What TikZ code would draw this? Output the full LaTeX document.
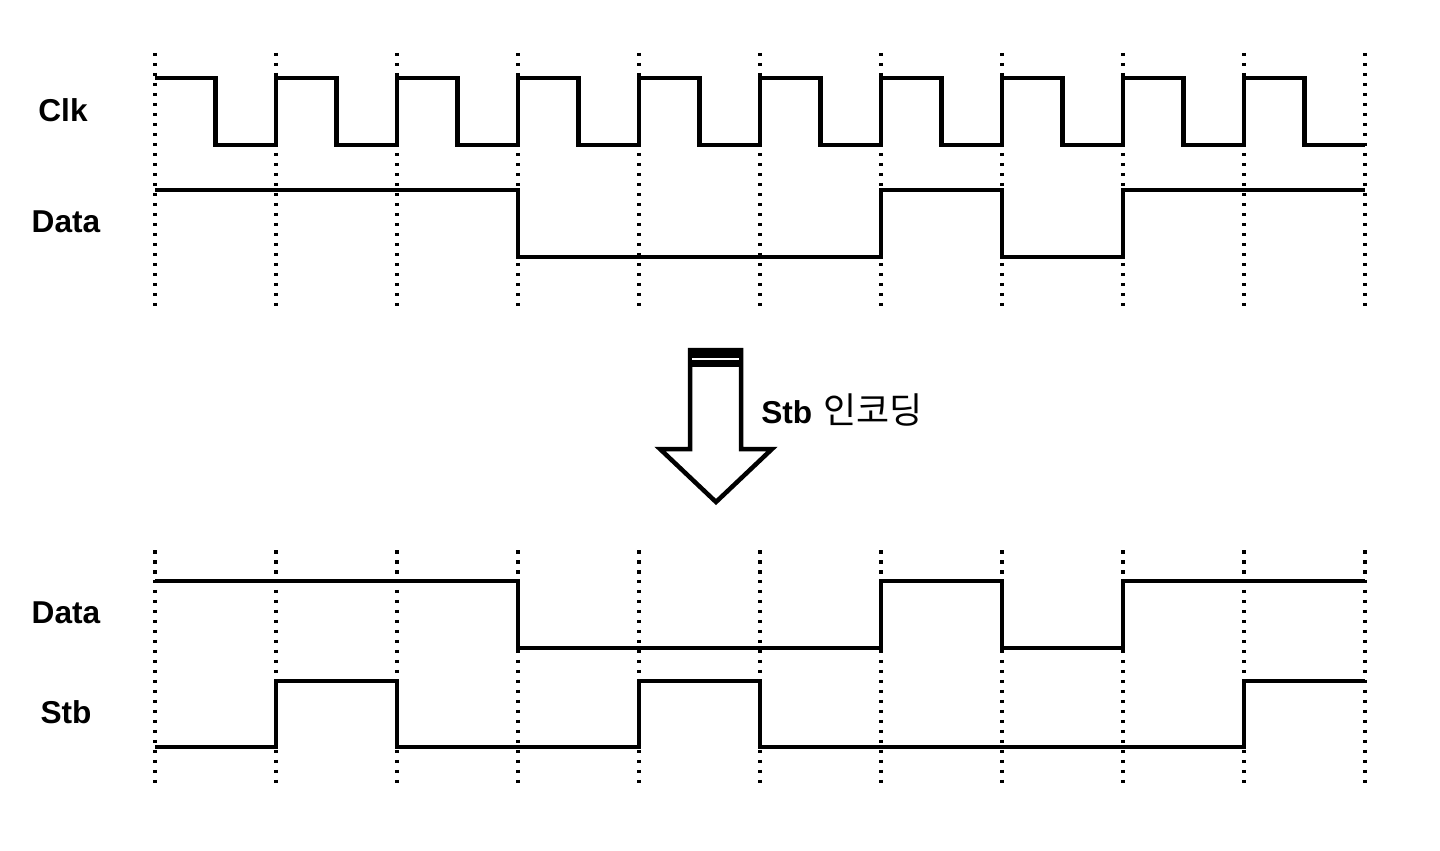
\documentclass[tikz,border=0pt]{standalone}
\usepackage{fontspec}
\setmainfont{Liberation Sans}
\newfontfamily\hangul{Noto Sans CJK KR}
\usepackage{tikz}
\usetikzlibrary{positioning}
\definecolor{ink}{HTML}{000000}

\tikzset{
  signal/.style={draw=ink,line width=0.09cm,line join=miter},
  gridline/.style={draw=ink,line width=0.075cm,dash pattern=on 0.07cm off 0.13cm},
  siglabel/.style={font=\fontsize{18}{21}\selectfont\bfseries,text=ink,inner sep=0pt},
}

\begin{document}
\begin{tikzpicture}[x=0.02cm,y=-0.02cm]
  \useasboundingbox (0,0) rectangle (1440,851);

  % dotted time grid, upper and lower panel
  \foreach \i in {0,...,10} {
    \draw[gridline] ({155+121*\i},53) -- ({155+121*\i},311);
    \draw[gridline] ({155+121*\i},550) -- ({155+121*\i},788);
  }

  % clock
  \draw[signal] (155,78)
    \foreach \i in {0,...,8} { -- ++(60.5,0) -- ++(0,67) -- ++(60.5,0) -- ++(0,-67) }
    -- ++(60.5,0) -- ++(0,67) -- ++(60.5,0);

  % data, same in both panels
  \foreach \y in {190,581}
    \draw[signal] (155,\y) -- (518,\y) -- (518,{\y+67}) -- (881,{\y+67}) -- (881,\y)
      -- (1002,\y) -- (1002,{\y+67}) -- (1123,{\y+67}) -- (1123,\y) -- (1365,\y);

  % strobe
  \draw[signal] (155,747) -- (276,747) -- (276,681) -- (397,681) -- (397,747)
    -- (639,747) -- (639,681) -- (760,681) -- (760,747) -- (1244,747)
    -- (1244,681) -- (1365,681);

  \node[siglabel] (clk)   at (63,110) {Clk};
  \node[siglabel] (data1) at (66,222) {Data};
  \node[siglabel] (data2) at (66,613) {Data};
  \node[siglabel] (stb)   at (66,712) {Stb};

  % encoding arrow
  \draw[signal,fill=white] (690,350) -- (690,449) -- (660,449) -- (716,502)
    -- (772,449) -- (741,449) -- (741,350) -- cycle;
  \fill[ink] (688,348) rectangle (743,367);
  \draw[white,line width=0.03cm] (692,359) -- (739,359);

  \node[siglabel,anchor=west] (enc) at (761,410)
    {Stb\hspace{0.35em}\mdseries\hangul\fontsize{20.5}{24}\selectfont 인코딩};
\end{tikzpicture}
\end{document}
